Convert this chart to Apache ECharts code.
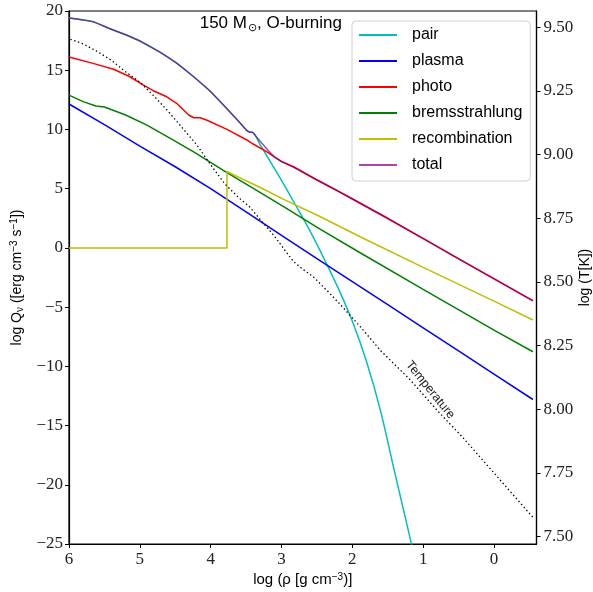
<!DOCTYPE html>
<html><head><meta charset="utf-8">
<script src="https://cdn.jsdelivr.net/npm/echarts@6/dist/echarts.min.js"></script>
<style>html,body{margin:0;padding:0;background:#fff}#c{width:593px;height:592px}</style>
</head><body><div id="c"></div>
<script>
// log rho grid per series (x) and log Q (left axis) / log T (right axis)
const totalRho = [6.0,5.8,5.66,5.42,5.19,5.0,4.71,4.48,4.24,4.01,3.77,3.6,3.49,3.45,3.41,3.3,3.2,3.1,3.0,2.83,2.5,2.17,2.0,1.5,1.0,0.5,0.0,-0.55];
const totalQ   = [19.4,19.25,19.1,18.5,17.97,17.47,16.5,15.6,14.45,13.25,11.75,10.65,9.91,9.77,9.76,9.0,8.3,7.68,7.3,6.85,5.75,4.7,4.15,2.5,0.8,-0.9,-2.6,-4.46];

const pairRho = [6.0,5.8,5.66,5.42,5.19,5.0,4.71,4.48,4.24,4.01,3.77,3.6,3.49,3.45,3.41,3.3,3.2,3.0,2.8,2.6,2.4,2.2,2.0,1.8,1.6,1.4,1.2,1.1];
const pairQ   = [19.4,19.25,19.1,18.5,17.97,17.47,16.5,15.6,14.45,13.25,11.75,10.65,9.91,9.77,9.76,8.7,7.7,5.7,3.6,1.45,-0.9,-3.4,-6.2,-9.6,-13.8,-19.0,-24.1,-26.8];

const plasmaRho = [6.0,5.5,5.0,4.5,4.0,3.5,3.0,2.5,2.0,1.5,1.0,0.5,0.0,-0.55];
const plasmaQ   = [12.15,10.4,8.6,6.85,5.0,3.05,1.05,-0.9,-2.85,-4.8,-6.75,-8.7,-10.65,-12.8];

const photoRho = [6.0,5.66,5.37,5.14,4.95,4.81,4.62,4.48,4.31,4.24,4.15,4.06,3.77,3.49,3.4,3.21,3.07,3.0,2.83,2.5,2.17,2.0,1.5,1.0,0.5,0.0,-0.55];
const photoQ   = [16.12,15.58,15.08,14.45,13.75,13.27,12.76,12.21,11.22,10.99,10.99,10.8,10.01,9.11,8.77,8.12,7.56,7.28,6.83,5.73,4.68,4.13,2.48,0.78,-0.92,-2.62,-4.48];

const bremsRho = [6.0,5.8,5.62,5.5,5.2,4.9,4.57,4.24,3.77,3.44,2.97,2.45,1.89,1.0,0.0,-0.55];
const bremsQ   = [12.9,12.35,11.98,11.9,11.22,10.37,9.25,8.1,6.35,5.17,3.48,1.57,-0.41,-3.5,-6.95,-8.77];

const recombRho = [6.0,3.77,3.77,3.6,3.44,3.3,2.97,2.45,1.89,1.0,0.0,-0.55];
const recombQ   = [0,0,6.45,5.95,5.5,5.1,4.1,2.63,0.94,-1.65,-4.5,-6.09];

const tempRho = [5.98,5.8,5.6,5.4,5.2,5.0,4.8,4.6,4.4,4.2,4.0,3.8,3.6,3.45,3.3,3.1,2.9,2.83,2.7,2.55,2.3,2.1,1.89,1.6,1.18,0.8,0.43,0.0,-0.56];
const tempT   = [9.453,9.435,9.405,9.37,9.325,9.285,9.23,9.17,9.105,9.04,8.96,8.885,8.83,8.795,8.745,8.68,8.605,8.58,8.55,8.52,8.45,8.39,8.325,8.23,8.115,7.995,7.886,7.75,7.572];

const xTicks = [0,1,2,3,4,5,6];
const tTicks = [7.5,7.75,8.0,8.25,8.5,8.75,9.0,9.25,9.5];

const zip = (a,b) => a.map((v,i)=>[v,b[i]]);
const serif = 'Liberation Serif';
const sans = 'Liberation Sans';
const minus = s => String(s).replace('-', '\u2212');

const chart = echarts.init(document.getElementById('c'), null, {renderer:'canvas'});
function line(name, rho, q, color, extra) {
  return Object.assign({
    name, type:'line', data: zip(rho,q), showSymbol:false, symbol:'none',
    lineStyle:{color, width:1.5}, itemStyle:{color}, z:2, animation:false
  }, extra||{});
}
chart.setOption({
  animation:false,
  backgroundColor:'#fff',
  title:{
    text:'150 M{sub|\u2299}, O-burning',
    right:246, top:9,
    textStyle:{fontFamily:sans, fontSize:17, fontWeight:'normal', color:'#000',
      rich:{sub:{fontFamily:sans, fontSize:11, verticalAlign:'bottom', padding:[8,0,0,1], color:'#000'}}}
  },
  grid:{left:69, right:56.5, top:11, bottom:48, outerBoundsMode:'none', containLabel:false,
        show:true, borderColor:'#000', borderWidth:1.2, backgroundColor:'transparent'},
  legend:{
    orient:'vertical', left:352, top:21,
    data:['pair','plasma','photo','bremsstrahlung','recombination','total'],
    icon:'rect', itemWidth:38, itemHeight:2, itemGap:8,
    padding:[5,8,7,7],
    backgroundColor:'rgba(255,255,255,0.8)', borderColor:'#d0d0d0', borderWidth:1, borderRadius:4,
    textStyle:{fontFamily:sans, fontSize:16, color:'#000', lineHeight:18, padding:[0,0,0,10]}
  },
  xAxis:{
    type:'value', inverse:true, min:-0.6, max:6,
    name:'log (\u03c1 [g cm{sup|\u22123})]', nameLocation:'middle', nameGap:28, nameMoveOverlap:false,
    nameTextStyle:{fontFamily:sans, fontSize:15, color:'#000',
      rich:{sup:{fontFamily:sans, fontSize:10, verticalAlign:'top', padding:[0,0,6,0], color:'#000'}}},
    axisLine:{show:true, onZero:false, lineStyle:{color:'#000', width:1.2}},
    axisTick:{show:true, inside:false, length:4, customValues:xTicks, lineStyle:{color:'#000'}},
    axisLabel:{customValues:xTicks, fontFamily:serif, fontSize:17, color:'#222', margin:7, formatter:v=>minus(v)},
    splitLine:{show:false}
  },
  yAxis:[{
    type:'value', min:-25, max:20, interval:5, position:'left',
    name:'log Q{sub|\u03bd} ([erg cm{sup|\u22123} s{sup|\u22121}])', nameLocation:'middle', nameGap:44, nameRotate:90, nameMoveOverlap:false,
    nameTextStyle:{fontFamily:sans, fontSize:14, color:'#000',
      rich:{sub:{fontFamily:sans, fontSize:10, verticalAlign:'bottom', padding:[6,0,0,0], color:'#000'},
            sup:{fontFamily:sans, fontSize:10, verticalAlign:'top', padding:[0,0,6,0], color:'#000'}}},
    axisLine:{show:true, onZero:false, lineStyle:{color:'#000', width:1.2}},
    axisTick:{show:true, length:4, lineStyle:{color:'#000'}},
    axisLabel:{fontFamily:serif, fontSize:17, color:'#222', margin:6, formatter:v=>minus(v)},
    splitLine:{show:false}
  },{
    type:'value', min:7.471, max:9.564, position:'right',
    name:'log (T[K])', nameLocation:'middle', nameGap:42, nameRotate:90, nameMoveOverlap:false,
    nameTextStyle:{fontFamily:sans, fontSize:14, color:'#000'},
    axisLine:{show:true, onZero:false, lineStyle:{color:'#000', width:1.2}},
    axisTick:{show:true, length:4, customValues:tTicks, lineStyle:{color:'#000'}},
    axisLabel:{customValues:tTicks, fontFamily:serif, fontSize:17, color:'#222', margin:7, formatter:v=>v.toFixed(2)},
    splitLine:{show:false}
  }],
  series:[
    line('pair', pairRho, pairQ, '#00bfbf', {smooth:0.3}),
    line('plasma', plasmaRho, plasmaQ, '#0000ff'),
    line('photo', photoRho, photoQ, '#ff0000'),
    line('bremsstrahlung', bremsRho, bremsQ, '#008000'),
    line('recombination', recombRho, recombQ, '#bfbf00'),
    line('total', totalRho, totalQ, 'rgba(128,0,128,0.7)', {z:3}),
    line('Temperature', tempRho, tempT, '#000', {
      yAxisIndex:1, z:3,
      lineStyle:{color:'#000', width:1.3, type:[1.4,2.6]},
      markPoint:{
        symbol:'circle', symbolSize:0, silent:true,
        label:{show:true, position:'inside', formatter:'Temperature', rotate:-51,
          fontFamily:sans, fontSize:12.5, color:'#222'},
        data:[{coord:[0.90, 8.076]}]
      }
    })
  ]
});
</script>
</body></html>
